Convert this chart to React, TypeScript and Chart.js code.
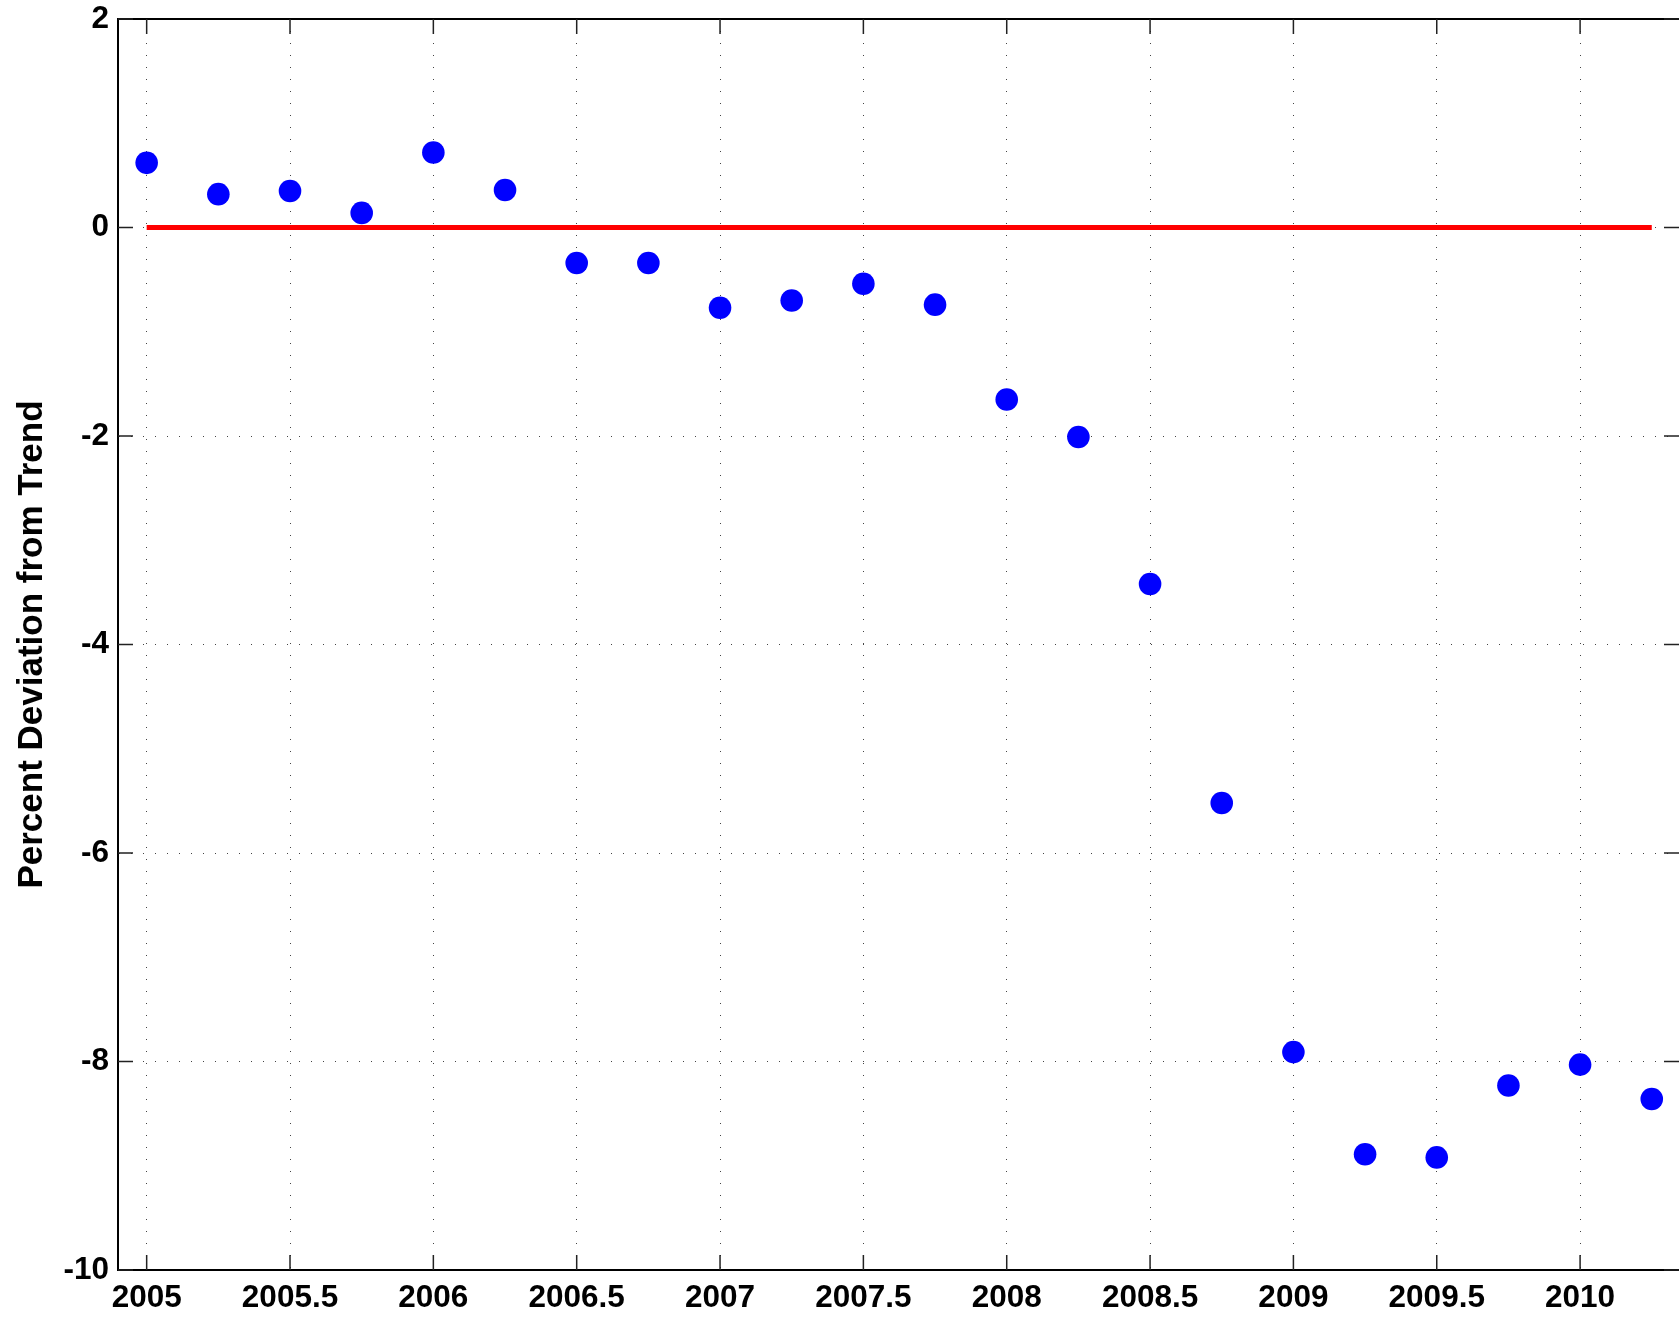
import React, { useEffect, useRef } from "react";
import { Chart, registerables } from "chart.js";

Chart.register(...registerables);

const quarters = [
  2005, 2005.25, 2005.5, 2005.75, 2006, 2006.25, 2006.5, 2006.75, 2007, 2007.25, 2007.5,
  2007.75, 2008, 2008.25, 2008.5, 2008.75, 2009, 2009.25, 2009.5, 2009.75, 2010, 2010.25,
];
const deviation = [
  0.62, 0.32, 0.35, 0.14, 0.72, 0.36, -0.34, -0.34, -0.77, -0.70, -0.54, -0.74, -1.65,
  -2.01, -3.42, -5.52, -7.91, -8.89, -8.92, -8.23, -8.03, -8.36,
];
const trendX = [2005, 2010.25];
const trendY = [0, 0];
const xTickValues = [2005, 2005.5, 2006, 2006.5, 2007, 2007.5, 2008, 2008.5, 2009, 2009.5, 2010];
const yTickValues = [-10, -8, -6, -4, -2, 0, 2];
const yAxisTitle = "Percent Deviation from Trend";

const FONT = "'Liberation Sans', Arial, Helvetica, sans-serif";

const frameTicksPlugin = {
  id: "frameTicks",
  afterDraw(chart: any) {
    const { ctx, chartArea } = chart;
    const xs = chart.scales.x;
    const ys = chart.scales.y;
    const { left, right, top, bottom } = chartArea;
    const len = 15;
    ctx.save();
    ctx.strokeStyle = "#000";
    ctx.lineWidth = 2;
    ctx.beginPath();
    ctx.moveTo(left, top);
    ctx.lineTo(right + 2, top);
    ctx.stroke();
    ctx.strokeStyle = "#222";
    ctx.lineWidth = 1.5;
    ctx.beginPath();
    for (const v of xTickValues) {
      const px = xs.getPixelForValue(v);
      ctx.moveTo(px, bottom);
      ctx.lineTo(px, bottom - len);
      ctx.moveTo(px, top);
      ctx.lineTo(px, top + len);
    }
    for (const v of yTickValues) {
      const py = ys.getPixelForValue(v);
      ctx.moveTo(left, py);
      ctx.lineTo(left + len, py);
      ctx.moveTo(right, py);
      ctx.lineTo(right - len, py);
    }
    ctx.stroke();
    ctx.restore();
  },
};

export default function App() {
  const canvasRef = useRef<HTMLCanvasElement | null>(null);

  useEffect(() => {
    const canvas = canvasRef.current;
    if (!canvas) return;
    const chart = new Chart(canvas, {
      type: "scatter",
      data: {
        datasets: [
          {
            label: "Trend",
            data: trendX.map((x, i) => ({ x, y: trendY[i] })),
            showLine: true,
            borderColor: "#ff0000",
            borderWidth: 5,
            pointRadius: 0,
            borderCapStyle: "butt",
            order: 2,
          },
          {
            label: "Deviation",
            data: quarters.map((x, i) => ({ x, y: deviation[i] })),
            showLine: false,
            pointRadius: 11.3,
            pointBackgroundColor: "#0000ff",
            pointBorderWidth: 0,
            backgroundColor: "#0000ff",
            borderColor: "#0000ff",
            order: 1,
          },
        ],
      },
      options: {
        responsive: false,
        animation: false,
        events: [],
        layout: { autoPadding: false, padding: { top: 19, right: 0, left: 0, bottom: 0 } },
        plugins: {
          legend: { display: false },
          tooltip: { enabled: false },
          title: { display: false },
        },
        scales: {
          x: {
            type: "linear",
            min: 2004.9,
            max: 2010.345,
            afterBuildTicks: (scale: any) => {
              scale.ticks = xTickValues.map((v) => ({ value: v }));
            },
            afterFit: (scale: any) => {
              scale.height = 47;
              scale.paddingLeft = 0;
              scale.paddingRight = 0;
            },
            ticks: {
              color: "#000",
              padding: 9,
              maxRotation: 0,
              autoSkip: false,
              font: { family: FONT, size: 31.5, weight: "bold" },
              callback: (v: any) => String(v),
            },
            grid: {
              color: "#444",
              lineWidth: 1,
              drawTicks: false,
            },
            border: { display: true, color: "#000", width: 2, dash: [1, 11], dashOffset: 0 },
          },
          y: {
            type: "linear",
            min: -10,
            max: 2,
            afterBuildTicks: (scale: any) => {
              scale.ticks = yTickValues.map((v) => ({ value: v }));
            },
            afterFit: (scale: any) => {
              scale.width = 118;
              scale.paddingTop = 0;
              scale.paddingBottom = 0;
            },
            ticks: {
              color: "#000",
              padding: 9,
              autoSkip: false,
              font: { family: FONT, size: 31.5, weight: "bold" },
              callback: (v: any) => String(v),
            },
            grid: {
              color: "#444",
              lineWidth: 1,
              drawTicks: false,
            },
            border: { display: true, color: "#000", width: 2, dash: [1, 11], dashOffset: 0 },
            title: {
              display: true,
              text: yAxisTitle,
              color: "#000",
              font: { family: FONT, size: 35, weight: "bold" },
              padding: { top: 11, bottom: 0 },
            },
          },
        },
      },
      plugins: [frameTicksPlugin],
    } as any);
    return () => chart.destroy();
  }, []);

  return (
    <div style={{ position: "absolute", left: 0, top: 0, width: 1679, height: 1317, background: "#fff" }}>
      <canvas ref={canvasRef} width={1679} height={1317} style={{ display: "block", width: 1679, height: 1317 }} />
    </div>
  );
}
